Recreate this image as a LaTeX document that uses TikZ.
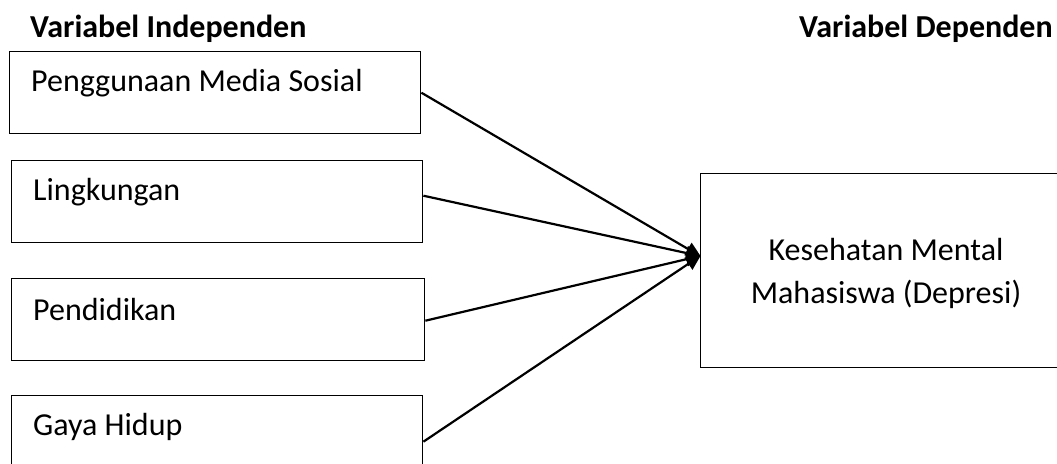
\documentclass[tikz,border=0pt]{standalone}
\usepackage{fontspec}
\setmainfont{Carlito}
\usetikzlibrary{arrows.meta}
\begin{document}
\begin{tikzpicture}[x=1pt,y=-1pt,
  box/.style={draw,line width=1.4pt,anchor=north west,inner sep=0pt},
  lbl/.style={anchor=base west,inner sep=0pt,font=\fontsize{32}{38}\selectfont},
  head/.style={anchor=base west,inner sep=0pt,font=\fontsize{32}{38}\selectfont\bfseries},
  conn/.style={line width=2.2pt,-{Triangle[length=15pt,width=14pt]},shorten >=-1pt}]
\useasboundingbox (0,0) rectangle (1057,463);
\clip (0,0) rectangle (1057,463);
\node[head] (h1) at (30,37) {Variabel Independen};
\node[head] (h2) at (799,37) {Variabel Dependen};
\node[box,minimum width=411pt,minimum height=82pt] (b1) at (9,51) {};
\node[box,minimum width=411pt,minimum height=82pt] (b2) at (11,160) {};
\node[box,minimum width=413pt,minimum height=82pt] (b3) at (11,278) {};
\node[box,minimum width=411pt,minimum height=82pt] (b4) at (11,395) {};
\node[box,minimum width=400pt,minimum height=194pt] (d) at (700,173) {};
\node[lbl] (t1) at (31,91) {Penggunaan Media Sosial};
\node[lbl] (t2) at (33,200) {Lingkungan};
\node[lbl] (t3) at (33,320) {Pendidikan};
\node[lbl] (t4) at (33,435) {Gaya Hidup};
\node[anchor=base,inner sep=0pt,font=\fontsize{32}{38}\selectfont] (k1) at (886,260) {Kesehatan Mental};
\node[anchor=base,inner sep=0pt,font=\fontsize{32}{38}\selectfont] (k2) at (886,303) {Mahasiswa (Depresi)};
\coordinate (tip) at (700,256);
\draw[conn] (b1.east) -- (tip);
\draw[conn] ([yshift=6pt]b2.east) -- (tip);
\draw[conn] ([yshift=-1pt]b3.east) -- (tip);
\draw[conn] ([yshift=-5pt]b4.east) -- (tip);
\end{tikzpicture}
\end{document}
